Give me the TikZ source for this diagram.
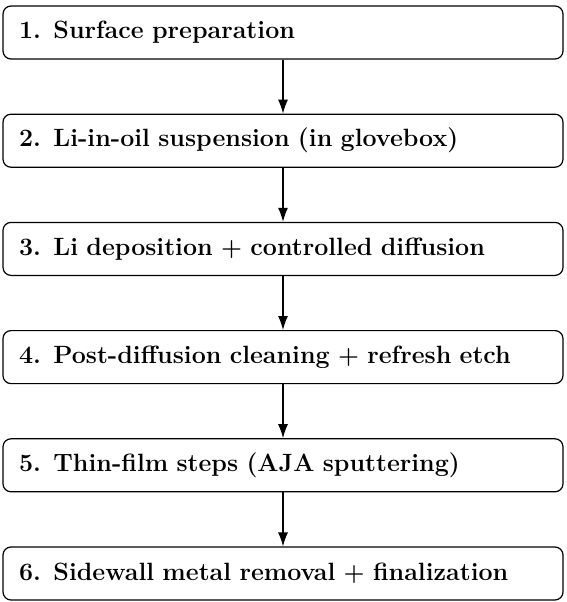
\documentclass[tikz,border=0pt]{standalone}
\usepackage{amsmath}
\usepackage{tikz}
\usetikzlibrary{arrows.meta,positioning,calc}
\tikzstyle{procstep}=[draw,rounded corners=4pt,line width=0.6pt,inner xsep=8pt,text width=264pt,align=left,minimum height=26.5pt,font=\fontsize{12.5}{15}\selectfont\bfseries\boldmath]
\tikzstyle{flow}=[-{Latex[length=7pt,width=5pt]},line width=0.6pt]

\begin{document}
\begin{tikzpicture}[node distance=27pt]
    \useasboundingbox (0,0) rectangle (283.5pt,301pt);
    \node [procstep] (s1) at (141.5pt,284.75pt) {1. Surface preparation};
    \node [procstep,below=of s1] (s2) {2. Li-in-oil suspension (in glovebox)};
    \node [procstep,below=of s2] (s3) {3. Li deposition $+$ controlled diffusion};
    \node [procstep,below=of s3] (s4) {4. Post-diffusion cleaning $+$ refresh etch};
    \node [procstep,below=of s4] (s5) {5. Thin-film steps (AJA sputtering)};
    \node [procstep,below=of s5] (s6) {6. Sidewall metal removal $+$ finalization};
    \foreach \a/\b in {s1/s2,s2/s3,s3/s4,s4/s5,s5/s6}
      \draw [flow] (\a) -- (\b);
\end{tikzpicture}
\end{document}
